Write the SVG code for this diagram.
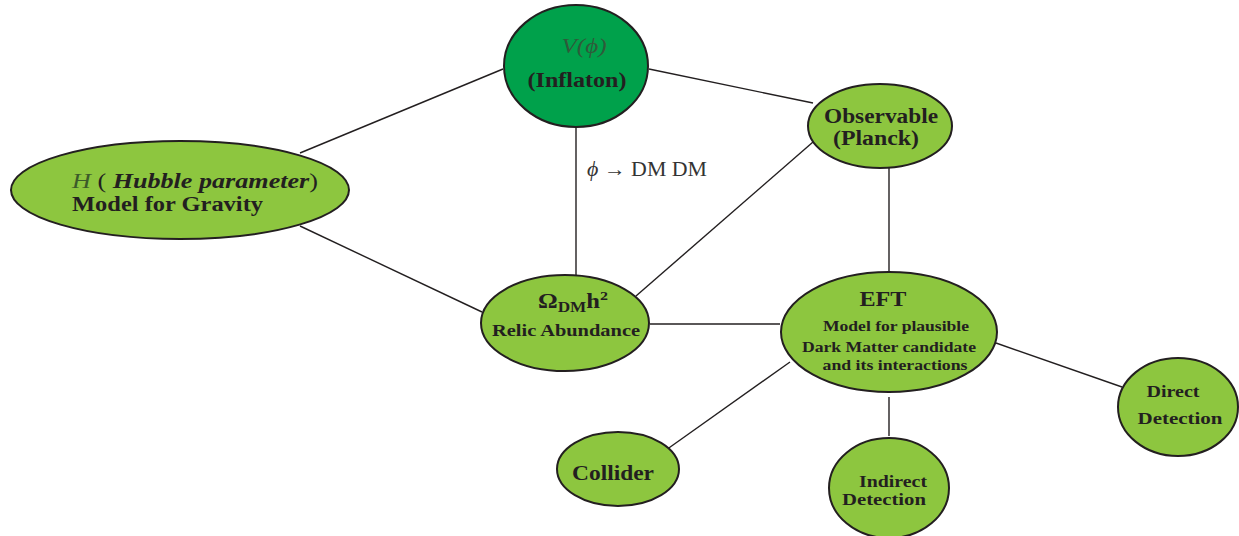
<svg xmlns="http://www.w3.org/2000/svg" width="1239" height="536" viewBox="0 0 1239 536">
<style>
.n{fill:#8dc63f;stroke:#231f20;stroke-width:2}
.d{fill:#00a14b;stroke:#231f20;stroke-width:2}
.t{font-family:"Liberation Serif",serif;font-weight:bold;fill:#231f20;text-anchor:middle}
.e line{stroke:#231f20;stroke-width:1.4}
</style>
<rect width="1239" height="536" fill="#fff"/>
<g class="e" id="connectors">
<line x1="300" y1="153" x2="503" y2="69"/>
<line x1="300" y1="226" x2="482" y2="312"/>
<line x1="649" y1="69" x2="813" y2="103"/>
<line x1="576" y1="128" x2="576" y2="276"/>
<line x1="813" y1="142" x2="636" y2="296"/>
<line x1="889" y1="168" x2="889" y2="272"/>
<line x1="650" y1="324" x2="780" y2="324"/>
<line x1="790" y1="362" x2="666" y2="450"/>
<line x1="889" y1="397" x2="889" y2="436"/>
<line x1="996" y1="343" x2="1122" y2="387"/>
<text x="587" y="176" font-family="Liberation Serif,serif" font-size="20" fill="#333" textLength="120" lengthAdjust="spacingAndGlyphs"><tspan font-style="italic">ϕ</tspan> → DM DM</text>
</g>
<g id="hubble">
<ellipse cx="180" cy="190" rx="169" ry="49" class="n" stroke-width="3.5"/>
<text x="72" y="188" font-family="Liberation Serif,serif" font-size="21" fill="#231f20" textLength="246" lengthAdjust="spacingAndGlyphs"><tspan font-style="italic" fill="#3c5a2a">H</tspan> ( <tspan font-style="italic" font-weight="bold">Hubble parameter</tspan>)</text>
<text x="72" y="211" font-family="Liberation Serif,serif" font-size="20" font-weight="bold" fill="#231f20" textLength="191" lengthAdjust="spacingAndGlyphs">Model for Gravity</text>
</g>
<g id="inflaton">
<ellipse cx="576" cy="66" rx="72" ry="61" class="d"/>
<text x="584" y="53" font-family="Liberation Serif,serif" font-size="21" font-style="italic" fill="#2f5a3a" text-anchor="middle" textLength="45" lengthAdjust="spacingAndGlyphs">V(ϕ)</text>
<text x="577" y="87" class="t" font-size="21" textLength="99" lengthAdjust="spacingAndGlyphs">(Inflaton)</text>
</g>
<g id="observable">
<ellipse cx="880" cy="126" rx="72" ry="42" class="n"/>
<text x="881" y="123" class="t" font-size="20" textLength="114" lengthAdjust="spacingAndGlyphs">Observable</text>
<text x="876" y="145" class="t" font-size="20" textLength="86" lengthAdjust="spacingAndGlyphs">(Planck)</text>
</g>
<g id="relic">
<ellipse cx="565" cy="323" rx="84" ry="48" class="n"/>
<text x="573" y="308" class="t" font-size="20" textLength="70" lengthAdjust="spacingAndGlyphs">Ω<tspan font-size="14" dy="4">DM</tspan><tspan dy="-4">h</tspan><tspan font-size="13" dy="-8">2</tspan></text>
<text x="566" y="336" class="t" font-size="16" textLength="148" lengthAdjust="spacingAndGlyphs">Relic Abundance</text>
</g>
<g id="eft">
<ellipse cx="889" cy="332" rx="108" ry="60" class="n"/>
<text x="883" y="306" class="t" font-size="20" textLength="47" lengthAdjust="spacingAndGlyphs">EFT</text>
<text x="896" y="331" class="t" font-size="15" textLength="146" lengthAdjust="spacingAndGlyphs">Model for plausible</text>
<text x="889" y="352" class="t" font-size="15" textLength="174" lengthAdjust="spacingAndGlyphs">Dark Matter candidate</text>
<text x="895" y="370" class="t" font-size="15" textLength="145" lengthAdjust="spacingAndGlyphs">and its interactions</text>
</g>
<g id="collider">
<ellipse cx="618" cy="469" rx="61" ry="37" class="n"/>
<text x="613" y="480" class="t" font-size="20" textLength="82" lengthAdjust="spacingAndGlyphs">Collider</text>
</g>
<g id="indirect">
<ellipse cx="889" cy="488" rx="60" ry="50" class="n"/>
<text x="893" y="487" class="t" font-size="16" textLength="68" lengthAdjust="spacingAndGlyphs">Indirect</text>
<text x="884" y="505" class="t" font-size="16" textLength="84" lengthAdjust="spacingAndGlyphs">Detection</text>
</g>
<g id="direct">
<ellipse cx="1178" cy="407" rx="60" ry="49" class="n"/>
<text x="1173" y="397" class="t" font-size="16" textLength="53" lengthAdjust="spacingAndGlyphs">Direct</text>
<text x="1180" y="424" class="t" font-size="16" textLength="85" lengthAdjust="spacingAndGlyphs">Detection</text>
</g>
</svg>
